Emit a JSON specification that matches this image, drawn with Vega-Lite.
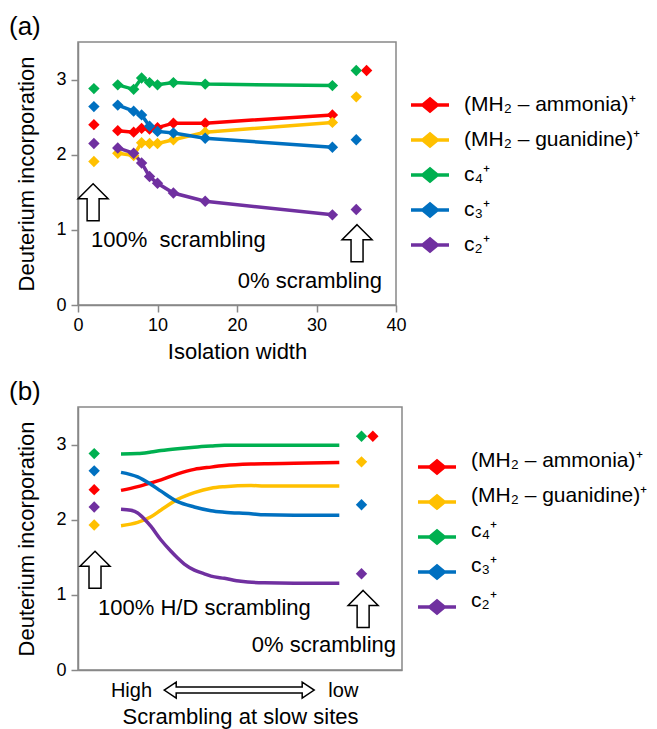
{
  "$schema": "https://vega.github.io/schema/vega-lite/v6.json",
  "padding": {"left": 8, "top": 13, "right": 2, "bottom": 1},
  "config": {
    "font": "Liberation Sans",
    "view": {"stroke": "#888888", "strokeWidth": 1.5},
    "axis": {"grid": false, "domainColor": "#888888", "domainWidth": 1.5, "tickColor": "#888888", "tickWidth": 1.5, "tickSize": 7, "labelFontSize": 18, "labelColor": "#000000", "titleFontSize": 22, "titleFontWeight": "normal", "titleColor": "#000000", "labelFlush": false},
    "title": {"fontSize": 26, "fontWeight": "normal", "anchor": "start", "frame": "group", "dx": -69, "offset": 2, "color": "#000000"}
  },
  "datasets": {
    "a_pts": [
      {"s": "(MH\u2082 \u2013 ammonia)\u207a", "x": 2, "y": 2.40, "k": "end"},
      {"s": "(MH\u2082 \u2013 ammonia)\u207a", "x": 5, "y": 2.32, "k": "line"},
      {"s": "(MH\u2082 \u2013 ammonia)\u207a", "x": 7, "y": 2.30, "k": "line"},
      {"s": "(MH\u2082 \u2013 ammonia)\u207a", "x": 8, "y": 2.35, "k": "line"},
      {"s": "(MH\u2082 \u2013 ammonia)\u207a", "x": 9, "y": 2.34, "k": "line"},
      {"s": "(MH\u2082 \u2013 ammonia)\u207a", "x": 10, "y": 2.36, "k": "line"},
      {"s": "(MH\u2082 \u2013 ammonia)\u207a", "x": 12, "y": 2.42, "k": "line"},
      {"s": "(MH\u2082 \u2013 ammonia)\u207a", "x": 16, "y": 2.42, "k": "line"},
      {"s": "(MH\u2082 \u2013 ammonia)\u207a", "x": 32, "y": 2.53, "k": "line"},
      {"s": "(MH\u2082 \u2013 ammonia)\u207a", "x": 36.3, "y": 3.12, "k": "end"},
      {"s": "(MH\u2082 \u2013 guanidine)\u207a", "x": 2, "y": 1.91, "k": "end"},
      {"s": "(MH\u2082 \u2013 guanidine)\u207a", "x": 5, "y": 2.02, "k": "line"},
      {"s": "(MH\u2082 \u2013 guanidine)\u207a", "x": 7, "y": 1.99, "k": "line"},
      {"s": "(MH\u2082 \u2013 guanidine)\u207a", "x": 8, "y": 2.16, "k": "line"},
      {"s": "(MH\u2082 \u2013 guanidine)\u207a", "x": 9, "y": 2.15, "k": "line"},
      {"s": "(MH\u2082 \u2013 guanidine)\u207a", "x": 10, "y": 2.15, "k": "line"},
      {"s": "(MH\u2082 \u2013 guanidine)\u207a", "x": 12, "y": 2.20, "k": "line"},
      {"s": "(MH\u2082 \u2013 guanidine)\u207a", "x": 16, "y": 2.30, "k": "line"},
      {"s": "(MH\u2082 \u2013 guanidine)\u207a", "x": 32, "y": 2.43, "k": "line"},
      {"s": "(MH\u2082 \u2013 guanidine)\u207a", "x": 35, "y": 2.77, "k": "end"},
      {"s": "c\u2084\u207a", "x": 2, "y": 2.88, "k": "end"},
      {"s": "c\u2084\u207a", "x": 5, "y": 2.93, "k": "line"},
      {"s": "c\u2084\u207a", "x": 7, "y": 2.87, "k": "line"},
      {"s": "c\u2084\u207a", "x": 8, "y": 3.02, "k": "line"},
      {"s": "c\u2084\u207a", "x": 9, "y": 2.96, "k": "line"},
      {"s": "c\u2084\u207a", "x": 10, "y": 2.93, "k": "line"},
      {"s": "c\u2084\u207a", "x": 12, "y": 2.96, "k": "line"},
      {"s": "c\u2084\u207a", "x": 16, "y": 2.94, "k": "line"},
      {"s": "c\u2084\u207a", "x": 32, "y": 2.92, "k": "line"},
      {"s": "c\u2084\u207a", "x": 35, "y": 3.12, "k": "end"},
      {"s": "c\u2083\u207a", "x": 2, "y": 2.64, "k": "end"},
      {"s": "c\u2083\u207a", "x": 5, "y": 2.66, "k": "line"},
      {"s": "c\u2083\u207a", "x": 7, "y": 2.58, "k": "line"},
      {"s": "c\u2083\u207a", "x": 8, "y": 2.53, "k": "line"},
      {"s": "c\u2083\u207a", "x": 9, "y": 2.38, "k": "line"},
      {"s": "c\u2083\u207a", "x": 10, "y": 2.31, "k": "line"},
      {"s": "c\u2083\u207a", "x": 12, "y": 2.29, "k": "line"},
      {"s": "c\u2083\u207a", "x": 16, "y": 2.22, "k": "line"},
      {"s": "c\u2083\u207a", "x": 32, "y": 2.10, "k": "line"},
      {"s": "c\u2083\u207a", "x": 35, "y": 2.20, "k": "end"},
      {"s": "c\u2082\u207a", "x": 2, "y": 2.15, "k": "end"},
      {"s": "c\u2082\u207a", "x": 5, "y": 2.09, "k": "line"},
      {"s": "c\u2082\u207a", "x": 7, "y": 2.02, "k": "line"},
      {"s": "c\u2082\u207a", "x": 8, "y": 1.89, "k": "line"},
      {"s": "c\u2082\u207a", "x": 9, "y": 1.71, "k": "line"},
      {"s": "c\u2082\u207a", "x": 10, "y": 1.62, "k": "line"},
      {"s": "c\u2082\u207a", "x": 12, "y": 1.49, "k": "line"},
      {"s": "c\u2082\u207a", "x": 16, "y": 1.38, "k": "line"},
      {"s": "c\u2082\u207a", "x": 32, "y": 1.20, "k": "line"},
      {"s": "c\u2082\u207a", "x": 35, "y": 1.27, "k": "end"}
    ],
    "b_lines": [
      {"s": "(MH\u2082 \u2013 ammonia)\u207a", "x": 5.31, "y": 2.39},
      {"s": "(MH\u2082 \u2013 ammonia)\u207a", "x": 7.37, "y": 2.44},
      {"s": "(MH\u2082 \u2013 ammonia)\u207a", "x": 9.01, "y": 2.49},
      {"s": "(MH\u2082 \u2013 ammonia)\u207a", "x": 10.25, "y": 2.53},
      {"s": "(MH\u2082 \u2013 ammonia)\u207a", "x": 12.30, "y": 2.61},
      {"s": "(MH\u2082 \u2013 ammonia)\u207a", "x": 14.36, "y": 2.67},
      {"s": "(MH\u2082 \u2013 ammonia)\u207a", "x": 16.42, "y": 2.70},
      {"s": "(MH\u2082 \u2013 ammonia)\u207a", "x": 18.07, "y": 2.72},
      {"s": "(MH\u2082 \u2013 ammonia)\u207a", "x": 21.36, "y": 2.74},
      {"s": "(MH\u2082 \u2013 ammonia)\u207a", "x": 23.0, "y": 2.745},
      {"s": "(MH\u2082 \u2013 ammonia)\u207a", "x": 26.7, "y": 2.75},
      {"s": "(MH\u2082 \u2013 ammonia)\u207a", "x": 32.26, "y": 2.76},
      {"s": "(MH\u2082 \u2013 guanidine)\u207a", "x": 5.31, "y": 1.92},
      {"s": "(MH\u2082 \u2013 guanidine)\u207a", "x": 7.37, "y": 1.964},
      {"s": "(MH\u2082 \u2013 guanidine)\u207a", "x": 9.01, "y": 2.04},
      {"s": "(MH\u2082 \u2013 guanidine)\u207a", "x": 10.25, "y": 2.13},
      {"s": "(MH\u2082 \u2013 guanidine)\u207a", "x": 12.30, "y": 2.27},
      {"s": "(MH\u2082 \u2013 guanidine)\u207a", "x": 14.36, "y": 2.36},
      {"s": "(MH\u2082 \u2013 guanidine)\u207a", "x": 16.42, "y": 2.42},
      {"s": "(MH\u2082 \u2013 guanidine)\u207a", "x": 18.07, "y": 2.44},
      {"s": "(MH\u2082 \u2013 guanidine)\u207a", "x": 21.36, "y": 2.455},
      {"s": "(MH\u2082 \u2013 guanidine)\u207a", "x": 23.0, "y": 2.45},
      {"s": "(MH\u2082 \u2013 guanidine)\u207a", "x": 26.7, "y": 2.45},
      {"s": "(MH\u2082 \u2013 guanidine)\u207a", "x": 32.26, "y": 2.45},
      {"s": "c\u2084\u207a", "x": 5.31, "y": 2.876},
      {"s": "c\u2084\u207a", "x": 7.37, "y": 2.88},
      {"s": "c\u2084\u207a", "x": 9.01, "y": 2.90},
      {"s": "c\u2084\u207a", "x": 10.25, "y": 2.92},
      {"s": "c\u2084\u207a", "x": 12.30, "y": 2.945},
      {"s": "c\u2084\u207a", "x": 14.36, "y": 2.965},
      {"s": "c\u2084\u207a", "x": 16.42, "y": 2.98},
      {"s": "c\u2084\u207a", "x": 18.07, "y": 2.99},
      {"s": "c\u2084\u207a", "x": 21.36, "y": 2.99},
      {"s": "c\u2084\u207a", "x": 23.0, "y": 2.99},
      {"s": "c\u2084\u207a", "x": 26.7, "y": 2.99},
      {"s": "c\u2084\u207a", "x": 32.26, "y": 2.99},
      {"s": "c\u2083\u207a", "x": 5.31, "y": 2.63},
      {"s": "c\u2083\u207a", "x": 7.37, "y": 2.57},
      {"s": "c\u2083\u207a", "x": 9.01, "y": 2.47},
      {"s": "c\u2083\u207a", "x": 10.25, "y": 2.38},
      {"s": "c\u2083\u207a", "x": 12.30, "y": 2.24},
      {"s": "c\u2083\u207a", "x": 14.36, "y": 2.17},
      {"s": "c\u2083\u207a", "x": 16.42, "y": 2.12},
      {"s": "c\u2083\u207a", "x": 18.07, "y": 2.10},
      {"s": "c\u2083\u207a", "x": 21.36, "y": 2.08},
      {"s": "c\u2083\u207a", "x": 23.0, "y": 2.065},
      {"s": "c\u2083\u207a", "x": 26.7, "y": 2.06},
      {"s": "c\u2083\u207a", "x": 32.26, "y": 2.06},
      {"s": "c\u2082\u207a", "x": 5.31, "y": 2.14},
      {"s": "c\u2082\u207a", "x": 6.54, "y": 2.125},
      {"s": "c\u2082\u207a", "x": 7.37, "y": 2.09},
      {"s": "c\u2082\u207a", "x": 8.19, "y": 2.01},
      {"s": "c\u2082\u207a", "x": 9.01, "y": 1.91},
      {"s": "c\u2082\u207a", "x": 10.25, "y": 1.73},
      {"s": "c\u2082\u207a", "x": 11.48, "y": 1.58},
      {"s": "c\u2082\u207a", "x": 12.30, "y": 1.49},
      {"s": "c\u2082\u207a", "x": 13.13, "y": 1.41},
      {"s": "c\u2082\u207a", "x": 14.36, "y": 1.33},
      {"s": "c\u2082\u207a", "x": 15.60, "y": 1.28},
      {"s": "c\u2082\u207a", "x": 16.42, "y": 1.25},
      {"s": "c\u2082\u207a", "x": 18.07, "y": 1.22},
      {"s": "c\u2082\u207a", "x": 20.12, "y": 1.18},
      {"s": "c\u2082\u207a", "x": 23.0, "y": 1.16},
      {"s": "c\u2082\u207a", "x": 26.7, "y": 1.155},
      {"s": "c\u2082\u207a", "x": 32.26, "y": 1.155}
    ],
    "b_pts": [
      {"s": "(MH\u2082 \u2013 ammonia)\u207a", "x": 2, "y": 2.40},
      {"s": "(MH\u2082 \u2013 ammonia)\u207a", "x": 36.4, "y": 3.11},
      {"s": "(MH\u2082 \u2013 guanidine)\u207a", "x": 2, "y": 1.93},
      {"s": "(MH\u2082 \u2013 guanidine)\u207a", "x": 35, "y": 2.77},
      {"s": "c\u2084\u207a", "x": 2, "y": 2.88},
      {"s": "c\u2084\u207a", "x": 35, "y": 3.11},
      {"s": "c\u2083\u207a", "x": 2, "y": 2.65},
      {"s": "c\u2083\u207a", "x": 35, "y": 2.20},
      {"s": "c\u2082\u207a", "x": 2, "y": 2.17},
      {"s": "c\u2082\u207a", "x": 35, "y": 1.28}
    ],
    "a_arrows": [{"x": 1.9, "y": 1.368}, {"x": 35.1, "y": 0.823}],
    "b_arrows": [{"x": 2.1, "y": 1.333}, {"x": 35.2, "y": 0.813}],
    "a_notes_left": [{"x": 1.63, "y": 0.863, "t": "100%\u00a0 scrambling"}],
    "a_notes_right": [{"x": 38.25, "y": 0.32, "t": "0% scrambling"}],
    "b_notes_left": [{"x": 2.47, "y": 0.83, "t": "100% H/D scrambling"}],
    "b_notes_right": [{"x": 39.26, "y": 0.333, "t": "0% scrambling"}],
    "b_double": [{"x": 19.9, "y": -0.267}]
  },
  "spacing": 15,
  "resolve": {"legend": {"color": "independent"}},
  "vconcat": [
    {
      "title": {"text": "(a)"},
      "width": 318,
      "height": 263,
      "encoding": {
        "x": {"field": "x", "type": "quantitative", "scale": {"domain": [0, 40], "nice": false}, "axis": {"values": [0, 10, 20, 30, 40], "title": "Isolation width", "labelPadding": 4, "titlePadding": 7}},
        "y": {"field": "y", "type": "quantitative", "scale": {"domain": [0, 3.5], "nice": false}, "axis": {"values": [0, 1, 2, 3], "title": "Deuterium incorporation", "labelPadding": 5, "titlePadding": 17}}
      },
      "layer": [
        {
          "data": {"name": "a_pts"},
          "transform": [{"filter": "datum.k == 'line'"}],
          "mark": {"type": "line", "strokeWidth": 3.5, "clip": false},
          "encoding": {
            "color": {"field": "s", "type": "nominal",
              "scale": {"domain": ["(MH\u2082 \u2013 ammonia)\u207a", "(MH\u2082 \u2013 guanidine)\u207a", "c\u2084\u207a", "c\u2083\u207a", "c\u2082\u207a"], "range": ["#FF0000", "#FFC000", "#00B050", "#0070C0", "#7030A0"]},
              "legend": {"orient": "none", "legendX": 331, "legendY": 42, "title": null, "symbolType": "M-1,0L1,0M-0.38,0L0,-0.32L0.38,0L0,0.32Z", "symbolSize": 1444, "symbolStrokeWidth": 3.5, "labelFontSize": 21, "labelLimit": 400, "labelOffset": 13, "rowPadding": 0, "padding": 0, "labelBaseline": "middle", "labelColor": "#000000",
                "encode": {"symbols": {"update": {"fill": {"scale": "color", "field": "value"}, "stroke": {"scale": "color", "field": "value"}, "opacity": {"value": 1}}}}}
            }
          }
        },
        {
          "data": {"name": "a_pts"},
          "mark": {"type": "point", "shape": "diamond", "filled": true, "size": 130, "opacity": 1, "clip": false},
          "encoding": {
            "color": {"field": "s", "type": "nominal",
              "scale": {"domain": ["(MH\u2082 \u2013 ammonia)\u207a", "(MH\u2082 \u2013 guanidine)\u207a", "c\u2084\u207a", "c\u2083\u207a", "c\u2082\u207a"], "range": ["#FF0000", "#FFC000", "#00B050", "#0070C0", "#7030A0"]},
              "legend": {"orient": "none", "legendX": 331, "legendY": 42, "title": null, "symbolType": "M-1,0L1,0M-0.38,0L0,-0.32L0.38,0L0,0.32Z", "symbolSize": 1444, "symbolStrokeWidth": 3.5, "labelFontSize": 21, "labelLimit": 400, "labelOffset": 13, "rowPadding": 0, "padding": 0, "labelBaseline": "middle", "labelColor": "#000000",
                "encode": {"symbols": {"update": {"fill": {"scale": "color", "field": "value"}, "stroke": {"scale": "color", "field": "value"}, "opacity": {"value": 1}}}}}
            }
          }
        },
        {
          "data": {"name": "a_arrows"},
          "mark": {"type": "point", "shape": "M0,-0.925L0.75,-0.175L0.3,-0.175L0.3,0.925L-0.3,0.925L-0.3,-0.175L-0.75,-0.175Z", "size": 1600, "filled": true, "fill": "#ffffff", "stroke": "#000000", "strokeWidth": 1.5, "opacity": 1, "clip": false}
        },
        {
          "data": {"name": "a_notes_left"},
          "mark": {"type": "text", "align": "left", "baseline": "middle", "fontSize": 22, "color": "#000000", "clip": false},
          "encoding": {"text": {"field": "t"}}
        },
        {
          "data": {"name": "a_notes_right"},
          "mark": {"type": "text", "align": "right", "baseline": "middle", "fontSize": 22, "color": "#000000", "clip": false},
          "encoding": {"text": {"field": "t"}}
        }
      ]
    },
    {
      "title": {"text": "(b)"},
      "width": 324,
      "height": 263,
      "encoding": {
        "x": {"field": "x", "type": "quantitative", "scale": {"domain": [0, 40], "nice": false}, "axis": {"values": [6.54, 32.7], "labelExpr": "datum.value < 20 ? 'High' : 'low'", "ticks": false, "tickSize": 0, "labelPadding": 10, "labelFontSize": 20, "title": "Scrambling at slow sites", "titlePadding": 6}},
        "y": {"field": "y", "type": "quantitative", "scale": {"domain": [0, 3.5], "nice": false}, "axis": {"values": [0, 1, 2, 3], "title": "Deuterium incorporation", "labelPadding": 5, "titlePadding": 17}}
      },
      "layer": [
        {
          "data": {"name": "b_lines"},
          "mark": {"type": "line", "strokeWidth": 3.5, "interpolate": "monotone", "clip": false},
          "encoding": {
            "color": {"field": "s", "type": "nominal",
              "scale": {"domain": ["(MH\u2082 \u2013 ammonia)\u207a", "(MH\u2082 \u2013 guanidine)\u207a", "c\u2084\u207a", "c\u2083\u207a", "c\u2082\u207a"], "range": ["#FF0000", "#FFC000", "#00B050", "#0070C0", "#7030A0"]},
              "legend": {"orient": "none", "legendX": 338, "legendY": 39, "title": null, "symbolType": "M-1,0L1,0M-0.38,0L0,-0.32L0.38,0L0,0.32Z", "symbolSize": 1444, "symbolStrokeWidth": 3.5, "labelFontSize": 21, "labelLimit": 400, "labelOffset": 13, "rowPadding": 0, "padding": 0, "labelBaseline": "alphabetic", "labelColor": "#000000",
                "encode": {"symbols": {"update": {"fill": {"scale": "color", "field": "value"}, "stroke": {"scale": "color", "field": "value"}, "opacity": {"value": 1}}}}}
            }
          }
        },
        {
          "data": {"name": "b_pts"},
          "mark": {"type": "point", "shape": "diamond", "filled": true, "size": 130, "opacity": 1, "clip": false},
          "encoding": {
            "color": {"field": "s", "type": "nominal",
              "scale": {"domain": ["(MH\u2082 \u2013 ammonia)\u207a", "(MH\u2082 \u2013 guanidine)\u207a", "c\u2084\u207a", "c\u2083\u207a", "c\u2082\u207a"], "range": ["#FF0000", "#FFC000", "#00B050", "#0070C0", "#7030A0"]},
              "legend": {"orient": "none", "legendX": 338, "legendY": 39, "title": null, "symbolType": "M-1,0L1,0M-0.38,0L0,-0.32L0.38,0L0,0.32Z", "symbolSize": 1444, "symbolStrokeWidth": 3.5, "labelFontSize": 21, "labelLimit": 400, "labelOffset": 13, "rowPadding": 0, "padding": 0, "labelBaseline": "alphabetic", "labelColor": "#000000",
                "encode": {"symbols": {"update": {"fill": {"scale": "color", "field": "value"}, "stroke": {"scale": "color", "field": "value"}, "opacity": {"value": 1}}}}}
            }
          }
        },
        {
          "data": {"name": "b_arrows"},
          "mark": {"type": "point", "shape": "M0,-0.925L0.75,-0.175L0.3,-0.175L0.3,0.925L-0.3,0.925L-0.3,-0.175L-0.75,-0.175Z", "size": 1600, "filled": true, "fill": "#ffffff", "stroke": "#000000", "strokeWidth": 1.5, "opacity": 1, "clip": false}
        },
        {
          "data": {"name": "b_double"},
          "mark": {"type": "point", "shape": "M-0.9375,0L-0.7875,-0.1L-0.7875,-0.0375L0.7875,-0.0375L0.7875,-0.1L0.9375,0L0.7875,0.1L0.7875,0.0375L-0.7875,0.0375L-0.7875,0.1Z", "size": 25600, "filled": true, "fill": "#ffffff", "stroke": "#000000", "strokeWidth": 1.5, "opacity": 1, "clip": false}
        },
        {
          "data": {"name": "b_notes_left"},
          "mark": {"type": "text", "align": "left", "baseline": "middle", "fontSize": 22, "color": "#000000", "clip": false},
          "encoding": {"text": {"field": "t"}}
        },
        {
          "data": {"name": "b_notes_right"},
          "mark": {"type": "text", "align": "right", "baseline": "middle", "fontSize": 22, "color": "#000000", "clip": false},
          "encoding": {"text": {"field": "t"}}
        }
      ]
    }
  ]
}
